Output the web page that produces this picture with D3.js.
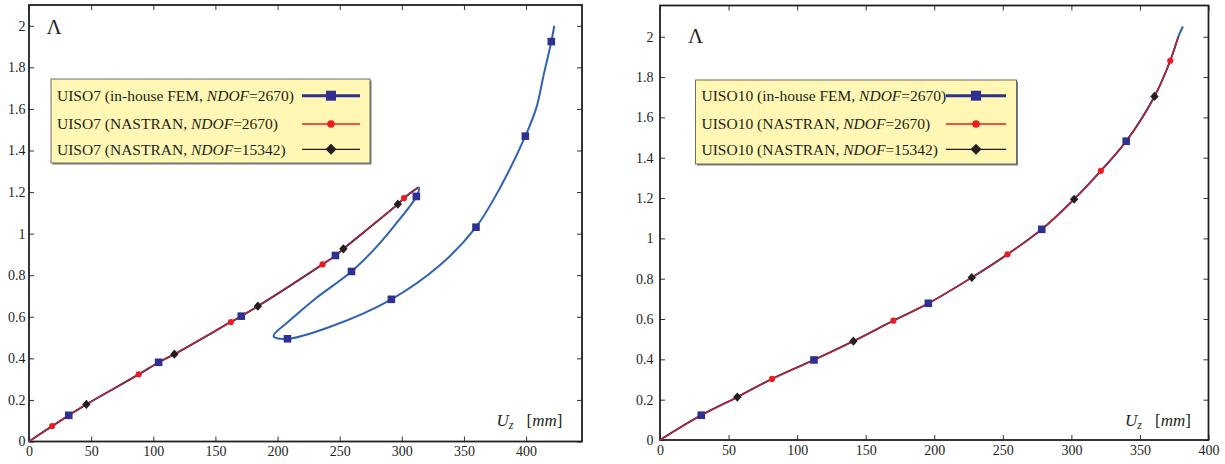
<!DOCTYPE html>
<html>
<head>
<meta charset="utf-8">
<script src="https://cdn.jsdelivr.net/npm/d3@7"></script>
<style>
  body { margin: 0; background: #fff; }
  svg { display: block; }
  svg text { font-family: 'Liberation Serif', 'Times New Roman', serif; fill: #231f20; }
</style>
</head>
<body>
<svg></svg>
<script>
// tick values / labels
const xTicksLeft = [0, 50, 100, 150, 200, 250, 300, 350, 400]
const xTicksRight = [0, 50, 100, 150, 200, 250, 300, 350, 400]
const yTicks = [0, 0.2, 0.4, 0.6, 0.8, 1, 1.2, 1.4, 1.6, 1.8, 2]
const yTickLabels = ['0', '0.2', '0.4', '0.6', '0.8', '1', '1.2', '1.4', '1.6', '1.8', '2']

// UISO7 (left) - [Uz mm, Lambda]
const uiso7FemCurve = [
  [0, 0], [18.6, 0.074], [32, 0.126], [46.2, 0.179], [88.3, 0.323], [104.3, 0.381],
  [117, 0.42], [162.5, 0.575], [170.8, 0.603], [184.2, 0.651], [236.2, 0.852],
  [246.6, 0.895], [253, 0.927], [296.8, 1.142], [301.8, 1.171], [313.7, 1.222],
  [311.7, 1.179], [293.3, 1.033], [277.2, 0.921], [259.5, 0.818], [228.9, 0.68],
  [210.2, 0.584], [196.8, 0.507], [208, 0.494], [242.4, 0.552], [291.6, 0.684],
  [330.8, 0.849], [359.7, 1.031], [379, 1.22], [399.4, 1.469], [408.5, 1.61],
  [413.8, 1.754], [420.3, 1.924], [422.7, 2.0]
]
const uiso7NastranCurve = [
  [0, 0], [18.6, 0.074], [32, 0.126], [46.2, 0.179], [88.3, 0.323], [104.3, 0.381],
  [117, 0.42], [162.5, 0.575], [170.8, 0.603], [184.2, 0.651], [236.2, 0.852],
  [246.6, 0.895], [253, 0.927], [296.8, 1.142], [301.8, 1.171], [313.2, 1.22]
]
const uiso7FemMarks = [[32, 0.126], [104.3, 0.381], [170.8, 0.603], [246.6, 0.895], [311.7, 1.179],
  [259.5, 0.818], [208, 0.494], [291.6, 0.684], [359.7, 1.031], [399.4, 1.469], [420.3, 1.924]]
const uiso7N2670Marks = [[18.6, 0.074], [88.3, 0.323], [162.5, 0.575], [236.2, 0.852], [301.8, 1.171]]
const uiso7N15342Marks = [[46.2, 0.179], [117, 0.42], [184.2, 0.651], [253, 0.927], [296.8, 1.142]]

// UISO10 (right)
const uiso10NastranCurve = [
  [0, 0], [30.1, 0.123], [56.4, 0.213], [81.7, 0.303], [112.3, 0.397], [141, 0.49],
  [170.2, 0.592], [195.7, 0.678], [227.4, 0.806], [253.4, 0.921], [278.4, 1.045],
  [302, 1.194], [321.5, 1.335], [340, 1.482], [360.6, 1.704], [372.1, 1.881], [378, 2.0]
]
const uiso10FemCurve = uiso10NastranCurve.concat([[381.3, 2.051]])
const uiso10FemMarks = [[30.1, 0.123], [112.3, 0.397], [195.7, 0.678], [278.4, 1.045], [340, 1.482]]
const uiso10N2670Marks = [[81.7, 0.303], [170.2, 0.592], [253.4, 0.921], [321.5, 1.335], [372.1, 1.881]]
const uiso10N15342Marks = [[56.4, 0.213], [141, 0.49], [227.4, 0.806], [302, 1.194], [360.6, 1.704]]

const legendLeft = [
  ['UISO7 (in-house FEM, ', 'NDOF', '=2670)'],
  ['UISO7 (NASTRAN, ', 'NDOF', '=2670)'],
  ['UISO7 (NASTRAN, ', 'NDOF', '=15342)']
]
const legendRight = [
  ['UISO10 (in-house FEM, ', 'NDOF', '=2670)'],
  ['UISO10 (NASTRAN, ', 'NDOF', '=2670)'],
  ['UISO10 (NASTRAN, ', 'NDOF', '=15342)']
]

const serif = "'Liberation Serif', 'Times New Roman', serif"
const blueLine = '#2f62b3'
const blueMark = '#2e3192'
const red = '#ed1c24'
const black = '#231f20'

const svg = d3.select('svg')
  .attr('width', 1225)
  .attr('height', 464)
  .attr('font-family', serif)

function diamond(x, y, w, h) {
  return `M${x},${y - h}L${x + w},${y}L${x},${y + h}L${x - w},${y}Z`
}

function drawPanel(p) {
  const x = d3.scaleLinear().domain(p.xDomain).range(p.xRange)
  const y = d3.scaleLinear().domain(p.yDomain).range(p.yRange)
  const g = svg.append('g')

  // axes, ticks pointing inward
  const bottom = g.append('g')
    .attr('transform', `translate(0, ${p.yRange[0]})`)
    .call(d3.axisBottom(x).tickValues(p.xTicks).tickSize(-5).tickPadding(5).tickFormat(d3.format('d')))
  const top = g.append('g')
    .attr('transform', `translate(0, ${p.yRange[1]})`)
    .call(d3.axisTop(x).tickValues(p.xTicks).tickSize(-5).tickFormat(''))
  const left = g.append('g')
    .attr('transform', `translate(${p.xRange[0]}, 0)`)
    .call(d3.axisLeft(y).tickValues(yTicks).tickSize(-5).tickPadding(p.yPad).tickFormat((d, i) => yTickLabels[i]))
  const right = g.append('g')
    .attr('transform', `translate(${p.xRange[1]}, 0)`)
    .call(d3.axisRight(y).tickValues(yTicks).tickSize(-5).tickFormat(''))

  for (const a of [bottom, top, left, right]) {
    a.select('.domain').remove()
    a.attr('font-family', serif).attr('font-size', 14)
    a.selectAll('line').attr('stroke', '#333').attr('stroke-width', 1)
    a.selectAll('text').attr('fill', black)
  }

  g.append('rect')
    .attr('x', p.xRange[0])
    .attr('y', p.yRange[1])
    .attr('width', p.xRange[1] - p.xRange[0])
    .attr('height', p.yRange[0] - p.yRange[1])
    .attr('fill', 'none')
    .attr('stroke', black)
    .attr('stroke-width', 1.8)

  const line = d3.line()
    .x(d => x(d[0]))
    .y(d => y(d[1]))
    .curve(d3.curveCatmullRom.alpha(0.5))

  g.append('path').attr('d', line(p.femCurve))
    .attr('fill', 'none').attr('stroke', blueLine).attr('stroke-width', 2)
  g.append('path').attr('d', line(p.nasCurve))
    .attr('fill', 'none').attr('stroke', black).attr('stroke-width', 1.4)
  g.append('path').attr('d', line(p.nasCurve))
    .attr('fill', 'none').attr('stroke', red).attr('stroke-width', 1.1)

  g.selectAll(null)
    .data(p.femMarks)
    .enter()
    .append('rect')
    .attr('x', d => x(d[0]) - 3.8)
    .attr('y', d => y(d[1]) - 3.8)
    .attr('width', 7.6)
    .attr('height', 7.6)
    .attr('fill', blueMark)
  g.selectAll(null)
    .data(p.redMarks)
    .enter()
    .append('circle')
    .attr('cx', d => x(d[0]))
    .attr('cy', d => y(d[1]))
    .attr('r', 3.1)
    .attr('fill', red)
  g.selectAll(null)
    .data(p.blackMarks)
    .enter()
    .append('path')
    .attr('d', d => diamond(x(d[0]), y(d[1]), 4.2, 4.6))
    .attr('fill', black)

  // Lambda label
  g.append('text')
    .attr('x', p.lambda[0])
    .attr('y', p.lambda[1])
    .attr('font-size', 21)
    .text('Λ')

  // Uz [mm]
  const ax = g.append('text')
    .attr('x', p.uz[0])
    .attr('y', p.uz[1])
    .attr('font-size', 17)
  ax.append('tspan').attr('font-style', 'italic').text('U')
  ax.append('tspan').attr('font-style', 'italic').attr('font-size', 12).attr('dy', 3).text('z')
  ax.append('tspan').attr('dy', -3).attr('dx', 13).text('[')
  ax.append('tspan').attr('font-style', 'italic').text('mm')
  ax.append('tspan').text(']')

  // legend
  const lg = g.append('g')
  lg.append('rect')
    .attr('x', p.legend.x + 1.5).attr('y', p.legend.y + 1.5)
    .attr('width', p.legend.w).attr('height', p.legend.h)
    .attr('fill', '#7a7a7a')
  lg.append('rect')
    .attr('x', p.legend.x).attr('y', p.legend.y)
    .attr('width', p.legend.w).attr('height', p.legend.h)
    .attr('fill', '#fff7b3')
    .attr('stroke', '#6d6d6d')
    .attr('stroke-width', 1)

  const baselines = [101, 129, 155]
  const lineY = [95.7, 124, 149.3]
  p.labels.forEach((parts, i) => {
    const t = lg.append('text')
      .attr('x', p.legend.x + 6)
      .attr('y', baselines[i])
      .attr('font-size', 15.5)
    t.append('tspan').text(parts[0])
    t.append('tspan').attr('font-style', 'italic').text(parts[1])
    t.append('tspan').text(parts[2])
  })
  const lx1 = p.legend.lx1, lx2 = p.legend.lx2, mx = (lx1 + lx2) / 2
  lg.append('line').attr('x1', lx1).attr('x2', lx2).attr('y1', lineY[0]).attr('y2', lineY[0])
    .attr('stroke', blueMark).attr('stroke-width', 3)
  lg.append('rect').attr('x', mx - 5).attr('y', lineY[0] - 5).attr('width', 10).attr('height', 10)
    .attr('fill', blueMark)
  lg.append('line').attr('x1', lx1).attr('x2', lx2).attr('y1', lineY[1]).attr('y2', lineY[1])
    .attr('stroke', red).attr('stroke-width', 1.3)
  lg.append('circle').attr('cx', mx).attr('cy', lineY[1]).attr('r', 3.8).attr('fill', red)
  lg.append('line').attr('x1', lx1).attr('x2', lx2).attr('y1', lineY[2]).attr('y2', lineY[2])
    .attr('stroke', black).attr('stroke-width', 1.2)
  lg.append('path').attr('d', diamond(mx, lineY[2], 5.5, 5.5)).attr('fill', black)
}

drawPanel({
  xDomain: [0, 445], xRange: [29, 582],
  yDomain: [0, 2.1], yRange: [441.5, 5],
  xTicks: xTicksLeft, yPad: 3.5,
  femCurve: uiso7FemCurve, nasCurve: uiso7NastranCurve,
  femMarks: uiso7FemMarks, redMarks: uiso7N2670Marks, blackMarks: uiso7N15342Marks,
  lambda: [46.5, 34], uz: [496.5, 426],
  legend: { x: 51, y: 79, w: 319, h: 84, lx1: 302, lx2: 360 },
  labels: legendLeft
})

drawPanel({
  xDomain: [0, 400], xRange: [660, 1208.5],
  yDomain: [0, 2.155], yRange: [440, 5.5],
  xTicks: xTicksRight, yPad: 6.5,
  femCurve: uiso10FemCurve, nasCurve: uiso10NastranCurve,
  femMarks: uiso10FemMarks, redMarks: uiso10N2670Marks, blackMarks: uiso10N15342Marks,
  lambda: [688, 43], uz: [1125, 426],
  legend: { x: 695.5, y: 80, w: 321, h: 84, lx1: 946, lx2: 1006 },
  labels: legendRight
})
</script>
</body>
</html>
